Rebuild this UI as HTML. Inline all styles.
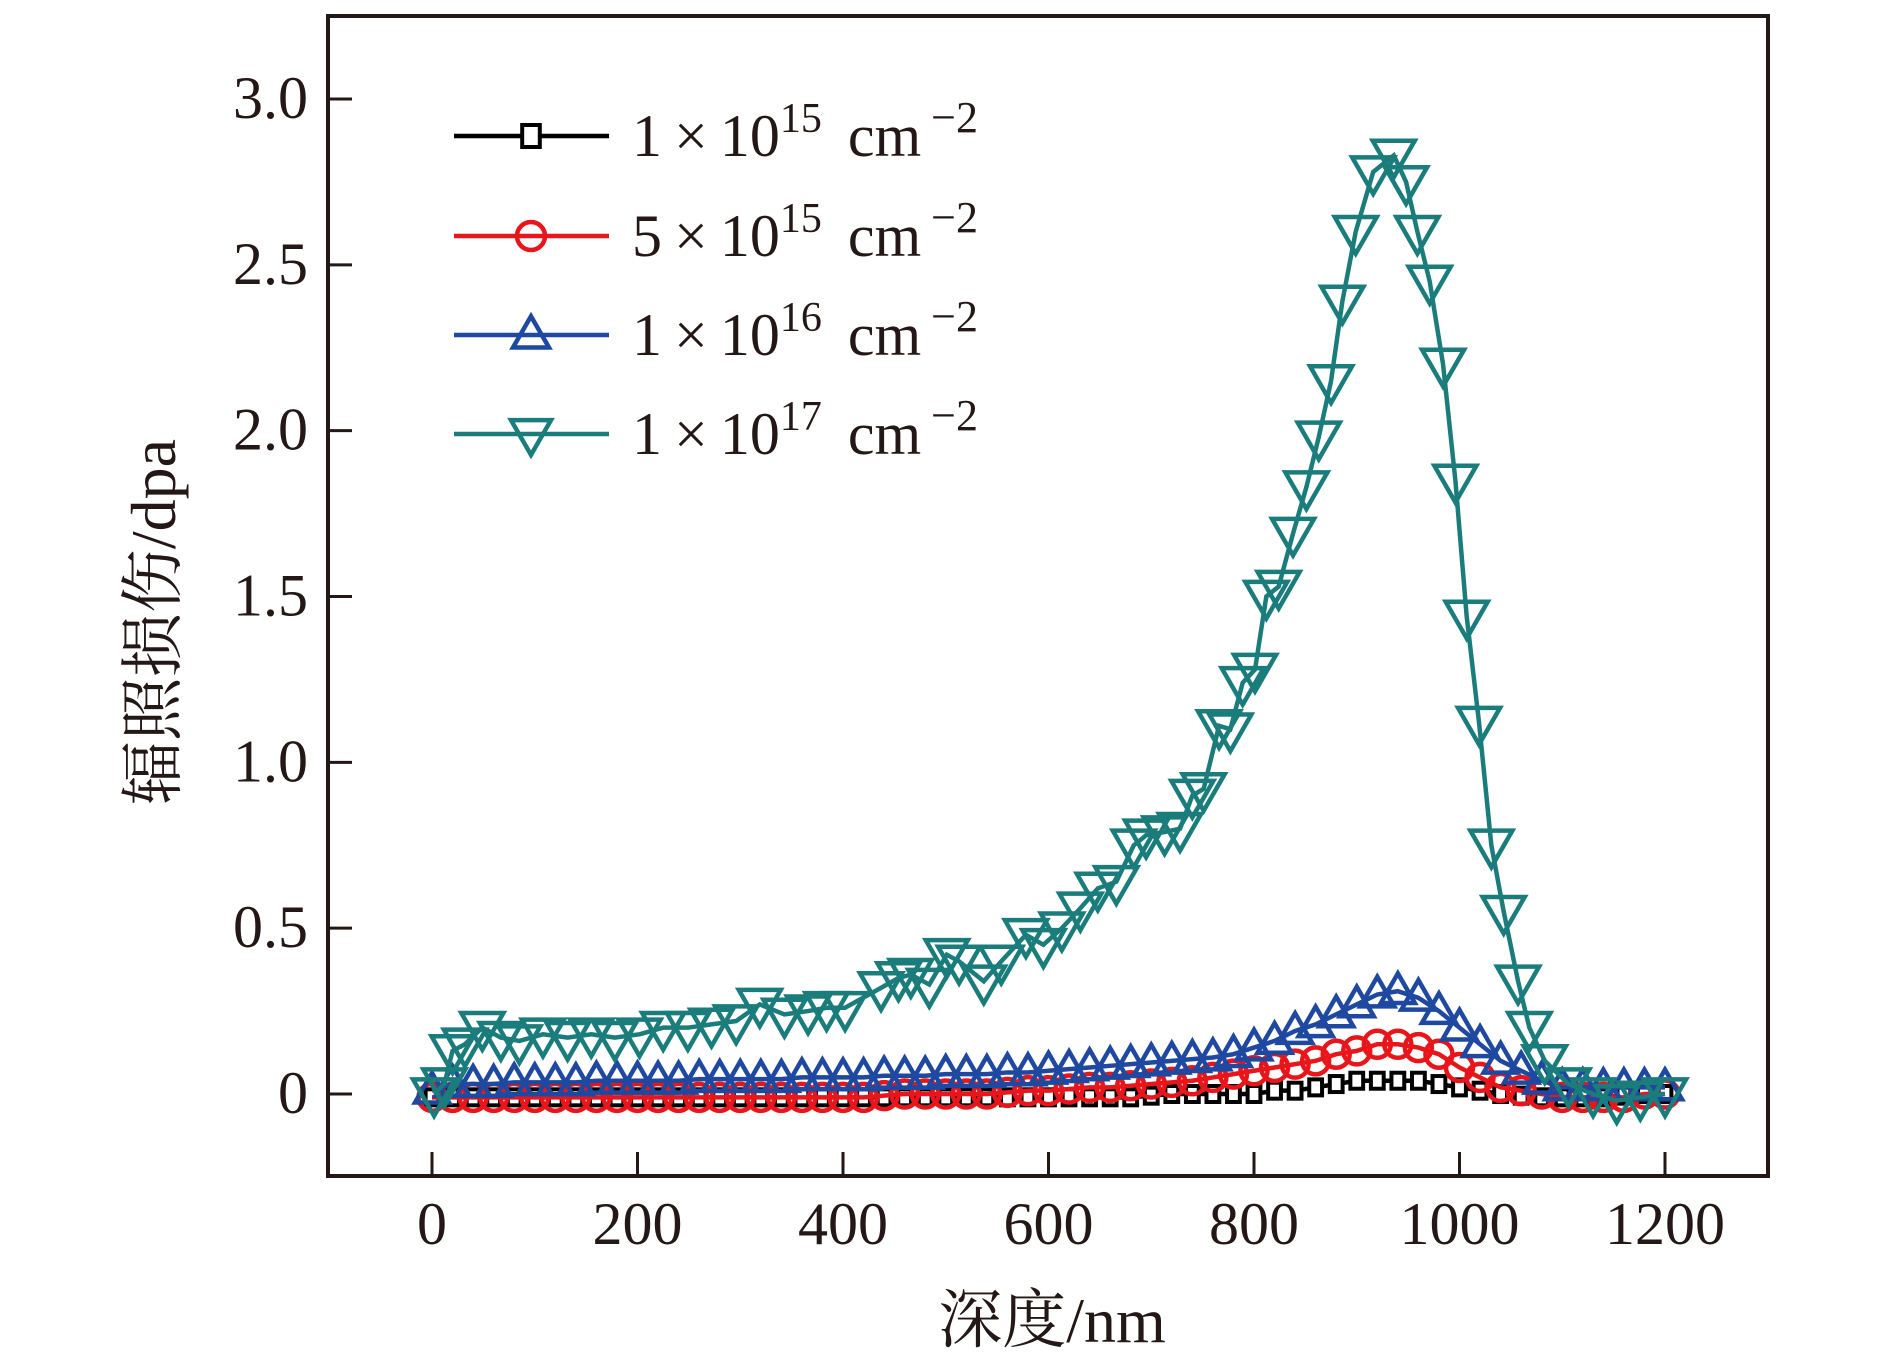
<!DOCTYPE html>
<html><head><meta charset="utf-8"><style>
body{margin:0;background:#fff}
svg{display:block}
text{font-family:"Liberation Serif","Noto Serif CJK SC",serif;fill:#231815}
</style></head><body>
<svg id="chart" width="1890" height="1371" viewBox="0 0 1890 1371" xmlns="http://www.w3.org/2000/svg">
<g id="plot"></g>
</svg>
<script>
const xTicks=[0,200,400,600,800,1000,1200];
const yTicks=[0,0.5,1.0,1.5,2.0,2.5,3.0];
const yTickLabels=["0","0.5","1.0","1.5","2.0","2.5","3.0"];
const gridX=[0,20,40,60,80,100,120,140,160,180,200,220,240,260,280,300,320,340,360,380,400,420,440,460,480,500,520,540,560,580,600,620,640,660,680,700,720,740,760,780,800,820,840,860,880,900,920,940,960,980,1000,1020,1040,1060,1080,1100,1120,1140,1160,1180,1200];
const blackY=[-0.01,-0.01,-0.01,-0.01,-0.01,-0.01,-0.01,-0.01,-0.01,-0.01,-0.01,-0.01,-0.01,-0.01,-0.01,-0.01,-0.01,-0.01,-0.01,-0.01,-0.01,-0.01,-0.01,-0.01,-0.01,-0.01,-0.01,-0.01,-0.01,-0.01,-0.01,-0.01,-0.01,-0.01,-0.01,-0.005,0,0,0,0,0,0.01,0.01,0.02,0.03,0.04,0.04,0.04,0.04,0.03,0.02,0.01,0,-0.005,-0.01,-0.01,-0.01,-0.01,-0.005,0,0];
const redY=[-0.01,-0.01,-0.01,-0.01,-0.01,-0.01,-0.01,-0.01,-0.01,-0.01,-0.01,-0.01,-0.01,-0.01,-0.01,-0.01,-0.01,-0.01,-0.01,-0.01,-0.01,-0.01,-0.005,0,0,0,0,0,0.005,0.01,0.01,0.015,0.02,0.02,0.025,0.03,0.035,0.04,0.05,0.06,0.07,0.08,0.09,0.1,0.12,0.13,0.15,0.15,0.14,0.12,0.08,0.05,0.02,0.01,0,-0.01,-0.01,-0.01,-0.01,0,0];
const blueY=[0.01,0.03,0.03,0.03,0.035,0.035,0.035,0.035,0.04,0.04,0.04,0.04,0.04,0.045,0.045,0.045,0.045,0.045,0.05,0.05,0.05,0.05,0.055,0.055,0.055,0.06,0.06,0.06,0.065,0.065,0.07,0.075,0.08,0.085,0.09,0.095,0.1,0.105,0.11,0.12,0.14,0.16,0.19,0.21,0.24,0.27,0.3,0.31,0.29,0.25,0.2,0.15,0.1,0.07,0.04,0.02,0.02,0.02,0.02,0.02,0.02];
const tealX=[2,12,20,32,49,67,85,108,132,155,178,202,225,249,272,296,319,343,366,384,402,437,454,466,484,501,513,537,554,578,595,613,631,648,666,683,695,713,728,740,751,766,777,789,801,812,824,838,851,863,875,886,899,916,936,948,959,971,984,996,1007,1019,1031,1043,1057,1068,1083,1106,1130,1153,1176,1200];
const tealY=[0.0,0.03,0.13,0.15,0.2,0.17,0.16,0.18,0.17,0.18,0.17,0.18,0.2,0.2,0.21,0.22,0.27,0.24,0.25,0.26,0.26,0.32,0.35,0.36,0.33,0.42,0.4,0.34,0.4,0.48,0.45,0.5,0.56,0.62,0.64,0.75,0.78,0.79,0.8,0.9,0.92,1.11,1.1,1.24,1.28,1.5,1.53,1.69,1.83,1.98,2.15,2.39,2.6,2.78,2.83,2.75,2.6,2.45,2.2,1.85,1.44,1.12,0.75,0.55,0.34,0.2,0.1,0.03,0.0,-0.02,-0.01,0.0];

const L=328,R=1768,T=16,B=1176;
const xs=v=>432+v*(1665-432)/1200;
const ys=v=>1094-v*(1094-99)/3;
const NS="http://www.w3.org/2000/svg";
const plot=document.getElementById('plot');
function el(tag,attrs,parent){const e=document.createElementNS(NS,tag);for(const k in attrs)e.setAttribute(k,attrs[k]);(parent||plot).appendChild(e);return e;}

let f=el('rect',{x:L,y:T,width:R-L,height:B-T,fill:'none',stroke:'#231815','stroke-width':4});



xTicks.forEach(v=>{
  const t=el('line',{x1:xs(v),x2:xs(v),y1:B,y2:B-24,stroke:'#231815','stroke-width':3});
  
  
  const tx=el('text',{x:xs(v),y:1244,'text-anchor':'middle','font-size':60});
  tx.textContent=v;
  
  
});
yTicks.forEach((v,i)=>{
  const t=el('line',{x1:L,x2:L+24,y1:ys(v),y2:ys(v),stroke:'#231815','stroke-width':3});
  
  
  const tx=el('text',{x:308,y:ys(v)+19,'text-anchor':'end','font-size':60});
  tx.textContent=yTickLabels[i];
  
  
});
let xt=el('text',{x:1052,y:1342,'text-anchor':'middle','font-size':64});
xt.textContent='深度/nm';


let yt=el('text',{x:0,y:0,'text-anchor':'middle','font-size':64,transform:'translate(175,622) rotate(-90)'});
yt.textContent='辐照损伤/dpa';



function marker(kind,cx,cy,color,size,parent){
  let m;
  if(kind==='square'){m=el('rect',{x:cx-size*0.4,y:cy-size/2,width:size*0.8,height:size,fill:'#fff',stroke:color,'stroke-width':4},parent);}
  else if(kind==='circle'){m=el('circle',{cx:cx,cy:cy,r:size/2,fill:'none',stroke:color,'stroke-width':4.5},parent);}
  else if(kind==='up'){const h=size*0.87;m=el('polygon',{points:`${cx},${cy-h*0.6} ${cx-size/2},${cy+h*0.4} ${cx+size/2},${cy+h*0.4}`,fill:'none',stroke:color,'stroke-width':4.5},parent);}
  else {const h=size*0.87;m=el('polygon',{points:`${cx},${cy+h*0.6} ${cx-size/2},${cy-h*0.4} ${cx+size/2},${cy-h*0.4}`,fill:'none',stroke:color,'stroke-width':4.5},parent);}
  return m;
}
function series(name,xsArr,ysArr,color,kind,size){
  const g=el('g',{});
  
  
  const p=el('polyline',{points:xsArr.map((x,i)=>xs(x)+','+ys(ysArr[i])).join(' '),fill:'none',stroke:color,'stroke-width':4.5},g);
  
  
  xsArr.forEach((x,i)=>{
    const m=marker(kind,xs(x),ys(ysArr[i]),color,size,g);
    
    
  });
}
series('dose-1e15',gridX,blackY,'#000','square',16);
series('dose-5e15',gridX,redY,'#e8161b','circle',27);
series('dose-1e16',gridX,blueY,'#1f48a0','up',34);
series('dose-1e17',tealX,tealY,'#1a7d7b','down',42);

const leg=[['1','15','#000','square',22],['5','15','#e8161b','circle',28],['1','16','#1f48a0','up',36],['1','17','#1a7d7b','down',40]];
const legY=[136,236,335,434];
leg.forEach((d,i)=>{
  const g=el('g',{});
  
  
  el('line',{x1:454,x2:609,y1:legY[i],y2:legY[i],stroke:d[2],'stroke-width':4.5},g);
  marker(d[3],531,legY[i],d[2],d[4],g);
  const t=el('text',{x:632,y:legY[i]+20,'font-size':60},g);
  t.innerHTML=`${d[0]}<tspan dx="12">×</tspan><tspan dx="12">10</tspan><tspan dy="-24" font-size="42">${d[1]}</tspan><tspan dy="24" dx="26">cm</tspan><tspan dy="-24" dx="10" font-size="44">−2</tspan>`;
});
</script>
</body></html>
